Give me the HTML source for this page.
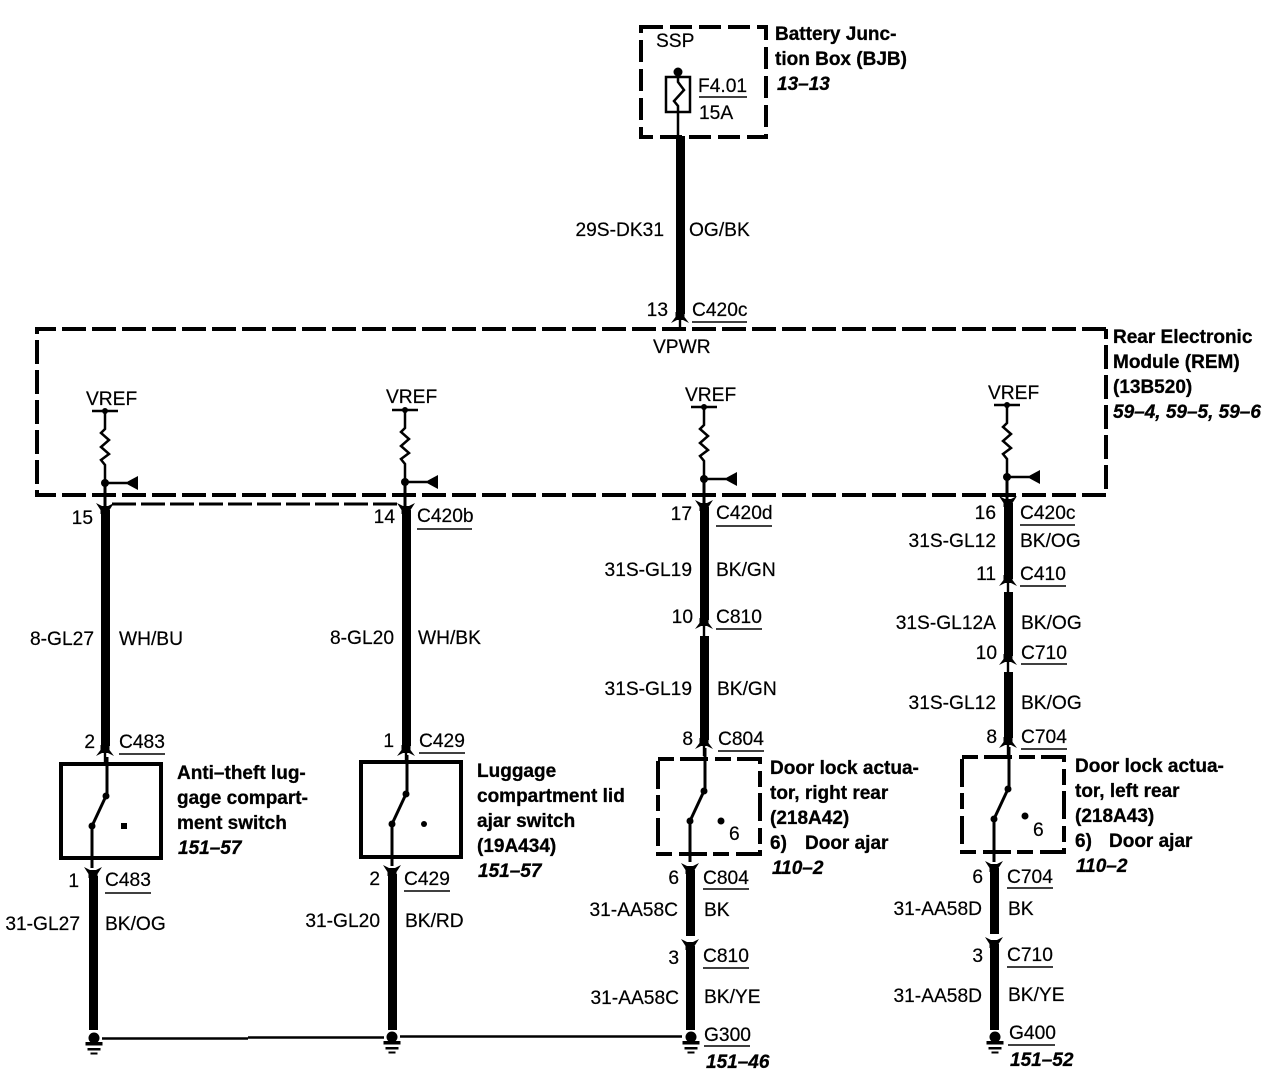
<!DOCTYPE html>
<html><head><meta charset="utf-8"><style>
html,body{margin:0;padding:0;background:#fff}
svg{display:block}
text{font-family:"Liberation Sans",sans-serif;font-size:19.2px;fill:#000;stroke:#000;stroke-width:.2}
.b{font-weight:bold;font-size:19px;stroke-width:.3}
.i{font-weight:bold;font-style:italic;font-size:19px;stroke-width:.3}
.e{text-anchor:end}
</style></head><body>
<svg width="1276" height="1088" viewBox="0 0 1276 1088" xmlns="http://www.w3.org/2000/svg">
<defs>
<g id="dn"><path d="M-9 -1L-3 2H3L9 -1L4.500 6V10H-4.500V6Z" fill="#000"/></g>
<g id="up"><path d="M-4.500 -10H4.500V-5L9 1L3 -2H-3L-9 1L-4.500 -5Z" fill="#000"/><rect x="-1.200" y="-2" width="2.400" height="10" fill="#000"/></g>
<g id="gnd" fill="#000"><circle cx="0" cy="-2" r="5.500"/><rect x="-8.500" y="2" width="17" height="3.500"/><rect x="-6.500" y="8" width="13" height="2.500"/><rect x="-3.500" y="12.500" width="7" height="2"/></g>
<g id="ref" fill="none" stroke="#000">
<path d="M-13 0H13" stroke-width="2.500"/><circle cx="0" cy="0" r="3" fill="#000" stroke="none"/>
<path d="M0 0V18L-4 22L4 29L-4 36L4 43L-4 49L0 54V72" stroke-width="2.500"/>
<circle cx="0" cy="72" r="4" fill="#000" stroke="none"/>
<path d="M0 72H22" stroke-width="2.500"/><path d="M20 72L33 65V79Z" fill="#000" stroke="none"/>
<path d="M0 72V96" stroke-width="3"/>
</g>
<g id="sw" fill="#000"><circle cx="14" cy="0" r="3.500"/><circle cx="0" cy="30" r="3.500"/><path d="M14 0L0 30" stroke="#000" stroke-width="3"/></g>
</defs>

<!-- BJB -->
<rect x="641" y="27" width="125" height="110" fill="none" stroke="#000" stroke-width="4" stroke-dasharray="22 7"/>
<circle cx="678" cy="72" r="4.500"/>
<rect x="666" y="77" width="24" height="35" fill="none" stroke="#000" stroke-width="2.500"/>
<path d="M678 72V82L684 90L674 101L678 106V140" fill="none" stroke="#000" stroke-width="2.500"/>
<path d="M699 97H747" stroke="#000" stroke-width="1.500"/>
<text x="656" y="47">SSP</text><text x="698" y="92">F4.01</text><text x="699" y="119">15A</text>
<text class="b" x="775" y="40">Battery Junc-</text><text class="b" x="775" y="65">tion Box (BJB)</text><text class="i" x="777" y="90">13–13</text>

<!-- top wire -->
<rect x="676" y="136" width="9" height="178" fill="#000"/><use href="#up" x="680" y="322"/>
<text class="e" x="664" y="236">29S-DK31</text><text x="689" y="236">OG/BK</text>
<text class="e" x="668" y="316">13</text><text x="692" y="316">C420c</text><path d="M692 322H747" stroke="#000" stroke-width="1.500"/>

<!-- REM -->
<path d="M1106 329H37V495H1106V329" fill="none" stroke="#000" stroke-width="4" stroke-dasharray="24 6"/>
<path d="M112 504H400" stroke="#000" stroke-width="3" stroke-dasharray="24 5"/>
<text x="653" y="353">VPWR</text>
<text class="b" x="1113" y="343">Rear Electronic</text><text class="b" x="1113" y="368">Module (REM)</text><text class="b" x="1113" y="393">(13B520)</text><text class="i" x="1113" y="418">59–4, 59–5, 59–6</text>

<text x="86" y="405">VREF</text><use href="#ref" x="105" y="411"/>
<text x="386" y="403">VREF</text><use href="#ref" x="405" y="410"/>
<text x="685" y="401">VREF</text><use href="#ref" x="704" y="407"/>
<text x="988" y="399">VREF</text><use href="#ref" x="1007" y="405"/>

<!-- column 1 -->
<use href="#dn" x="105" y="504"/><rect x="101" y="510" width="9" height="236" fill="#000"/><use href="#up" x="105" y="755"/>
<text class="e" x="93" y="524">15</text>
<text class="e" x="94" y="645">8-GL27</text><text x="119" y="645">WH/BU</text>
<text class="e" x="95" y="748">2</text><text x="119" y="748">C483</text><path d="M119 754H165" stroke="#000" stroke-width="1.500"/>
<rect x="61" y="764" width="100" height="94" fill="none" stroke="#000" stroke-width="4"/>
<path d="M107 757V795M92 826V868" stroke="#000" stroke-width="3"/><use href="#sw" x="92" y="796"/>
<rect x="121" y="823" width="6" height="6"/>
<text class="b" x="177" y="779">Anti–theft lug-</text><text class="b" x="177" y="804">gage compart-</text><text class="b" x="177" y="829">ment switch</text><text class="i" x="178" y="854">151–57</text>
<use href="#dn" x="93" y="868"/><rect x="89" y="876" width="9" height="154" fill="#000"/>
<text class="e" x="79" y="887">1</text><text x="105" y="886">C483</text><path d="M105 893H151" stroke="#000" stroke-width="1.500"/>
<text class="e" x="80" y="930">31-GL27</text><text x="105" y="930">BK/OG</text>
<use href="#gnd" x="94" y="1040"/>

<!-- column 2 -->
<use href="#dn" x="406" y="504"/><rect x="402" y="510" width="9" height="236" fill="#000"/><use href="#up" x="406" y="755"/>
<text class="e" x="395" y="523">14</text><text x="417" y="522">C420b</text><path d="M417 529H472" stroke="#000" stroke-width="1.500"/>
<text class="e" x="394" y="644">8-GL20</text><text x="418" y="644">WH/BK</text>
<text class="e" x="394" y="747">1</text><text x="419" y="747">C429</text><path d="M419 753H465" stroke="#000" stroke-width="1.500"/>
<rect x="361" y="762" width="100" height="95" fill="none" stroke="#000" stroke-width="4"/>
<path d="M407 755V793M392 824V866" stroke="#000" stroke-width="3"/><use href="#sw" x="392" y="794"/>
<circle cx="424" cy="824" r="3"/>
<text class="b" x="477" y="777">Luggage</text><text class="b" x="477" y="802">compartment lid</text><text class="b" x="477" y="827">ajar switch</text><text class="b" x="477" y="852">(19A434)</text><text class="i" x="478" y="877">151–57</text>
<use href="#dn" x="392" y="866"/><rect x="388" y="874" width="9" height="156" fill="#000"/>
<text class="e" x="380" y="885">2</text><text x="404" y="885">C429</text><path d="M404 891H450" stroke="#000" stroke-width="1.500"/>
<text class="e" x="380" y="927">31-GL20</text><text x="405" y="927">BK/RD</text>
<use href="#gnd" x="392" y="1039"/>
<path d="M102 1038.500H248M248 1037.500H384M400 1036.500H682" stroke="#000" stroke-width="2.500"/>

<!-- column 3 -->
<use href="#dn" x="704" y="501"/><rect x="700" y="507" width="9" height="113" fill="#000"/><use href="#up" x="704" y="628"/>
<rect x="700" y="636" width="9" height="104" fill="#000"/><use href="#up" x="704" y="748"/>
<text class="e" x="692" y="520">17</text><text x="716" y="519">C420d</text><path d="M716 526H772" stroke="#000" stroke-width="1.500"/>
<text class="e" x="692" y="576">31S-GL19</text><text x="716" y="576">BK/GN</text>
<text class="e" x="693" y="623">10</text><text x="716" y="623">C810</text><path d="M716 629H762" stroke="#000" stroke-width="1.500"/>
<text class="e" x="692" y="695">31S-GL19</text><text x="717" y="695">BK/GN</text>
<text class="e" x="693" y="745">8</text><text x="718" y="745">C804</text><path d="M718 751H764" stroke="#000" stroke-width="1.500"/>
<rect x="658" y="759" width="102" height="95" fill="none" stroke="#000" stroke-width="4" stroke-dasharray="16 6 28 7"/>
<path d="M705 748V790M690 822V862" stroke="#000" stroke-width="3"/><use href="#sw" x="690" y="791"/>
<circle cx="721" cy="821" r="3.500"/><text x="729" y="840">6</text>
<text class="b" x="770" y="774">Door lock actua-</text><text class="b" x="770" y="799">tor, right rear</text><text class="b" x="770" y="824">(218A42)</text><text class="b" x="770" y="849">6)</text><text class="b" x="805" y="849">Door ajar</text><text class="i" x="772" y="874">110–2</text>
<use href="#dn" x="690" y="864"/><rect x="686" y="870" width="9" height="66" fill="#000"/><use href="#dn" x="690" y="940"/><rect x="686" y="946" width="9" height="84" fill="#000"/>
<text class="e" x="679" y="884">6</text><text x="703" y="884">C804</text><path d="M703 889H749" stroke="#000" stroke-width="1.500"/>
<text class="e" x="678" y="916">31-AA58C</text><text x="704" y="916">BK</text>
<text class="e" x="679" y="964">3</text><text x="703" y="962">C810</text><path d="M703 968H749" stroke="#000" stroke-width="1.500"/>
<text class="e" x="679" y="1004">31-AA58C</text><text x="704" y="1003">BK/YE</text>
<use href="#gnd" x="691" y="1039"/>
<text x="704" y="1041">G300</text><path d="M704 1046H750" stroke="#000" stroke-width="1.500"/><text class="i" x="706" y="1068">151–46</text>

<!-- column 4 -->
<use href="#dn" x="1008" y="497"/><rect x="1004" y="503" width="9" height="76" fill="#000"/><use href="#up" x="1008" y="585"/>
<rect x="1004" y="592" width="9" height="64" fill="#000"/><use href="#up" x="1008" y="664"/>
<rect x="1004" y="672" width="9" height="66" fill="#000"/><use href="#up" x="1008" y="747"/>
<text class="e" x="996" y="519">16</text><text x="1020" y="519">C420c</text><path d="M1020 525H1075" stroke="#000" stroke-width="1.500"/>
<text class="e" x="996" y="547">31S-GL12</text><text x="1020" y="547">BK/OG</text>
<text class="e" x="996" y="580">11</text><text x="1020" y="580">C410</text><path d="M1020 586H1066" stroke="#000" stroke-width="1.500"/>
<text class="e" x="996" y="629">31S-GL12A</text><text x="1021" y="629">BK/OG</text>
<text class="e" x="997" y="659">10</text><text x="1021" y="659">C710</text><path d="M1021 664H1067" stroke="#000" stroke-width="1.500"/>
<text class="e" x="996" y="709">31S-GL12</text><text x="1021" y="709">BK/OG</text>
<text class="e" x="997" y="743">8</text><text x="1021" y="743">C704</text><path d="M1021 749H1067" stroke="#000" stroke-width="1.500"/>
<rect x="962" y="757" width="102" height="95" fill="none" stroke="#000" stroke-width="4" stroke-dasharray="16 6 28 7"/>
<path d="M1009 747V788M994 820V862" stroke="#000" stroke-width="3"/><use href="#sw" x="994" y="789"/>
<circle cx="1025" cy="816" r="3.500"/><text x="1033" y="836">6</text>
<text class="b" x="1075" y="772">Door lock actua-</text><text class="b" x="1075" y="797">tor, left rear</text><text class="b" x="1075" y="822">(218A43)</text><text class="b" x="1075" y="847">6)</text><text class="b" x="1109" y="847">Door ajar</text><text class="i" x="1076" y="872">110–2</text>
<use href="#dn" x="994" y="862"/><rect x="990" y="868" width="9" height="66" fill="#000"/><use href="#dn" x="994" y="938"/><rect x="990" y="944" width="9" height="86" fill="#000"/>
<text class="e" x="983" y="883">6</text><text x="1007" y="883">C704</text><path d="M1007 888H1053" stroke="#000" stroke-width="1.500"/>
<text class="e" x="982" y="915">31-AA58D</text><text x="1008" y="915">BK</text>
<text class="e" x="983" y="962">3</text><text x="1007" y="961">C710</text><path d="M1007 967H1053" stroke="#000" stroke-width="1.500"/>
<text class="e" x="982" y="1002">31-AA58D</text><text x="1008" y="1001">BK/YE</text>
<use href="#gnd" x="995" y="1039"/>
<text x="1009" y="1039">G400</text><path d="M1008 1045H1055" stroke="#000" stroke-width="1.500"/><text class="i" x="1010" y="1066">151–52</text>
</svg>
</body></html>
